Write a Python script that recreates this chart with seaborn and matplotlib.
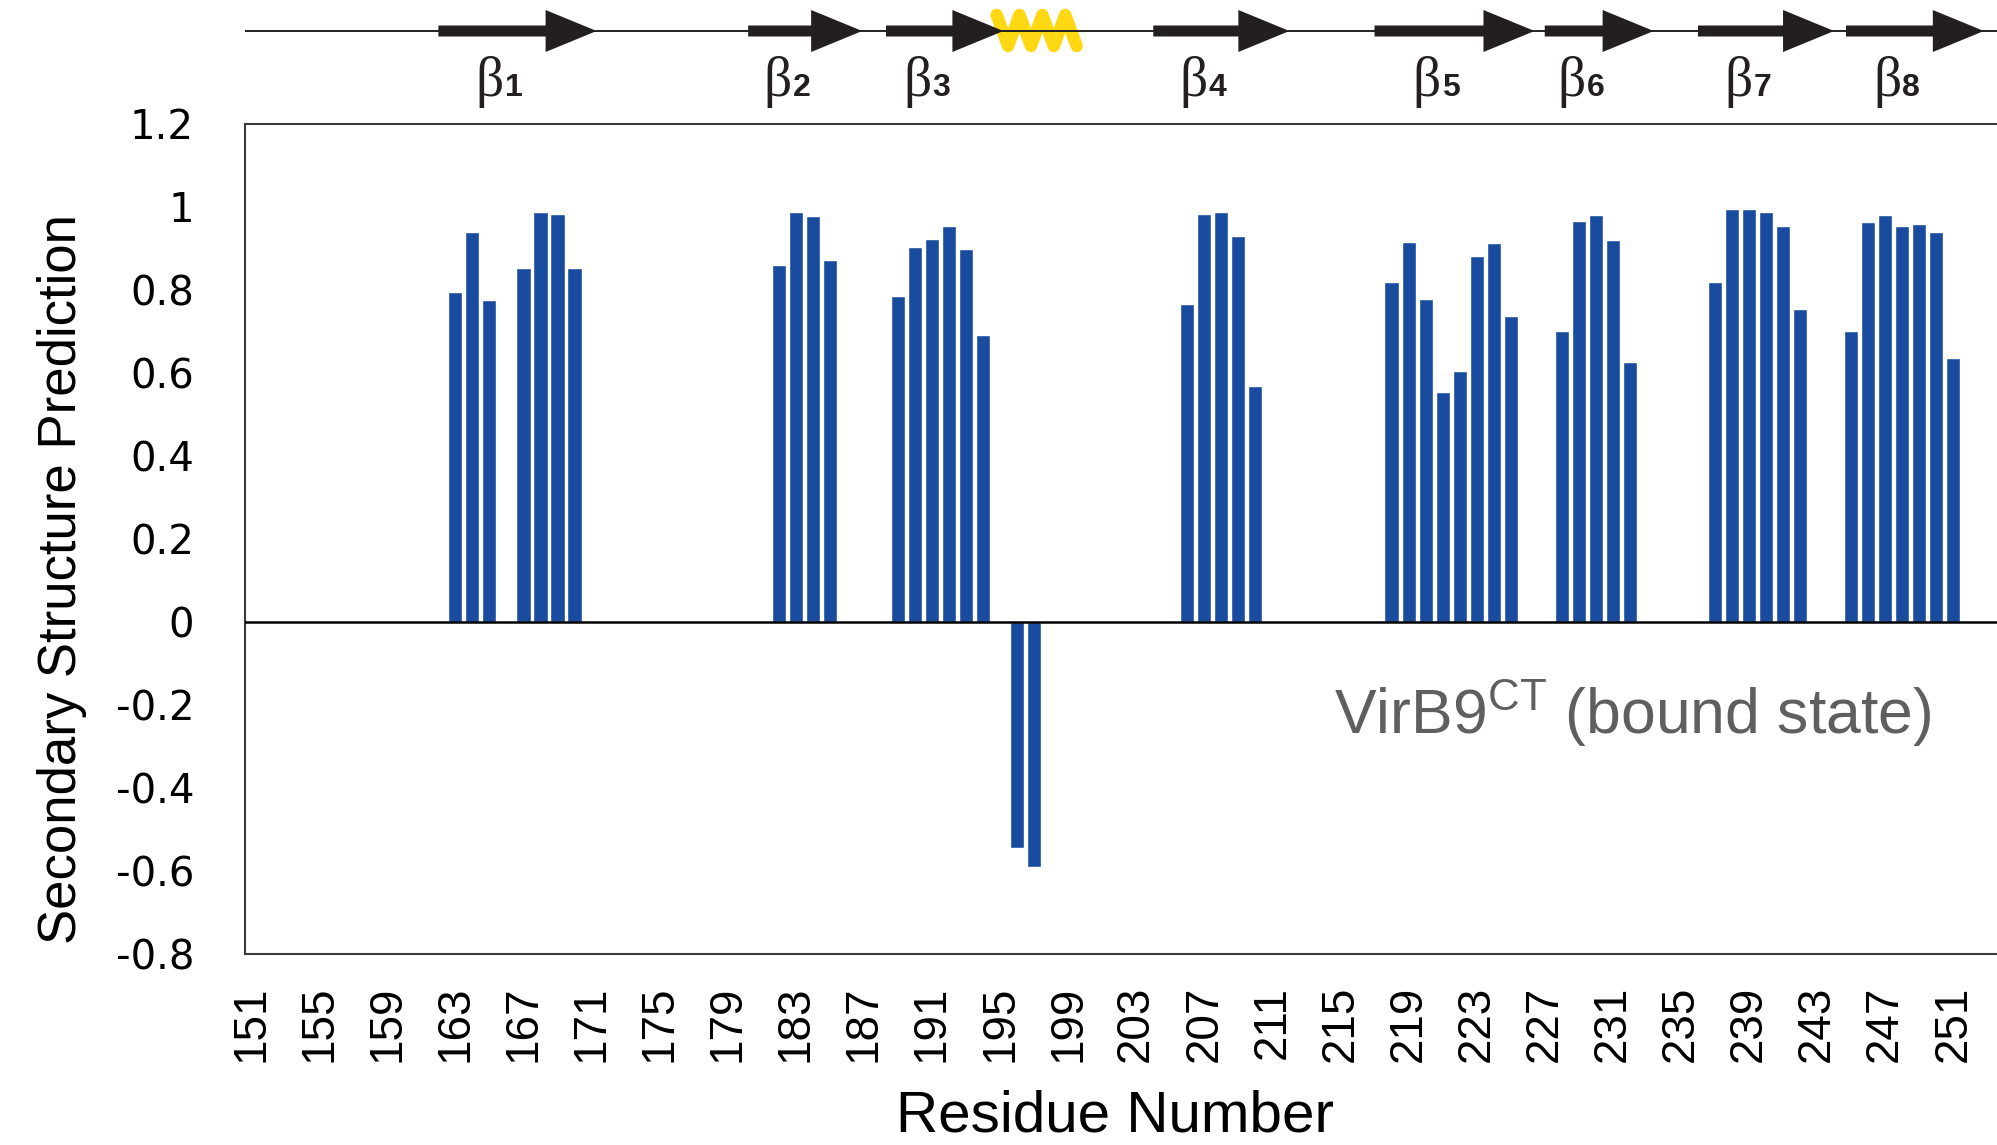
import numpy as np
import pandas as pd
import matplotlib
matplotlib.use('Agg')
import matplotlib.pyplot as plt
import seaborn as sns
from matplotlib.patches import Polygon

# secondary structure prediction per residue (residues with no prediction are left out)
residues = [163, 164, 165, 167, 168, 169, 170,
            182, 183, 184, 185,
            189, 190, 191, 192, 193, 194,
            196, 197,
            206, 207, 208, 209, 210,
            218, 219, 220, 221, 222, 223, 224, 225,
            228, 229, 230, 231, 232,
            237, 238, 239, 240, 241, 242,
            245, 246, 247, 248, 249, 250, 251]
ss_values = [0.793, 0.938, 0.775, 0.851, 0.986, 0.981, 0.851,
             0.858, 0.988, 0.978, 0.870,
             0.784, 0.902, 0.922, 0.954, 0.898, 0.691,
             -0.546, -0.591,
             0.766, 0.983, 0.988, 0.930, 0.568,
             0.818, 0.914, 0.777, 0.554, 0.603, 0.880, 0.913, 0.737,
             0.699, 0.964, 0.979, 0.919, 0.626,
             0.818, 0.993, 0.993, 0.988, 0.954, 0.754,
             0.699, 0.963, 0.979, 0.954, 0.958, 0.938, 0.636]

# beta strands / helix of the bound state structure (residue numbers)
strand_names = ['1', '2', '3', '4', '5', '6', '7', '8']
strand_start = [162.0, 180.2, 188.3, 204.0, 217.0, 227.0, 236.0, 244.7]
strand_end = [171.3, 186.9, 195.2, 212.0, 226.4, 233.4, 244.0, 252.8]
helix_start = 194.8
helix_end = 199.5

xtick_values = list(range(151, 252, 4))
ytick_values = [-0.8, -0.6, -0.4, -0.2, 0, 0.2, 0.4, 0.6, 0.8, 1.0, 1.2]
ytick_labels = ['-0.8', '-0.6', '-0.4', '-0.2', '0', '0.2', '0.4', '0.6', '0.8', '1', '1.2']

sns.set_style('white')
plt.rcParams['font.family'] = ['Liberation Sans', 'DejaVu Sans']
plt.rcParams['mathtext.fontset'] = 'custom'
plt.rcParams['mathtext.rm'] = 'Liberation Sans'
for key in ['text.color', 'axes.labelcolor', 'xtick.color', 'ytick.color']:
    plt.rcParams[key] = 'black'

bar_color = '#194c9f'
xmin, xmax = 150.665, 253.57

fig = plt.figure(figsize=(19.97, 11.45), dpi=100)
ax = fig.add_axes([0.1229, 0.1672, 0.8771, 0.7249])

df = pd.DataFrame({'Residue': residues, 'Prediction': ss_values})
sns.barplot(data=df, x='Residue', y='Prediction', native_scale=True, width=0.83,
            color=bar_color, saturation=1, errorbar=None, ax=ax)

ax.set_xlim(xmin, xmax)
ax.set_ylim(-0.8, 1.2)
ax.axhline(0, color='black', lw=1.8, zorder=3)

ax.spines['right'].set_visible(False)
for side in ['left', 'top', 'bottom']:
    ax.spines[side].set_color('#3a3a3a')
    ax.spines[side].set_linewidth(1.5)

ax.set_xticks(xtick_values)
ax.set_xticklabels([str(v) for v in xtick_values], rotation=90, fontsize=33)
ax.set_yticks(ytick_values)
ax.set_yticklabels(ytick_labels, fontsize=29, family=['DejaVu Sans'])
ax.tick_params(axis='x', length=0, pad=23)
ax.tick_params(axis='y', length=0, pad=37)

ax.set_xlabel('Residue Number', fontsize=42, va='baseline')
ax.xaxis.set_label_coords(0.4967, -0.2139)
ax.set_ylabel('Secondary Structure Prediction', fontsize=38, va='center')
ax.yaxis.set_label_coords(-0.1048, 0.4506)

ax.text(0.6214, 0.2645, r'VirB9$^{\mathrm{CT}}$ (bound state)', transform=ax.transAxes,
        fontsize=45, color='#5f5f5f', va='baseline', ha='left')

# topology diagram above the plot, y in pixels from the top of the image
ax_top = fig.add_axes([0.1229, 0.9, 0.8771, 0.1], sharex=ax)
ax_top.set_ylim(114.5, 0)
ax_top.axis('off')
line_y = 31
ax_top.axhline(line_y, color='#222222', lw=1.4, zorder=2)

# helix drawn as a zigzag ribbon
n_turns = 4
hx = np.linspace(helix_start, helix_end, 2 * n_turns)
hy = np.where(np.arange(2 * n_turns) % 2 == 0, 15, 46)
ax_top.plot(hx, hy, color='#ffd814', lw=9, solid_joinstyle='round', zorder=1)

head_len = 3.0
for name, s, e in zip(strand_names, strand_start, strand_end):
    verts = [(s, line_y - 5.5), (e - head_len, line_y - 5.5), (e - head_len, line_y - 21),
             (e, line_y), (e - head_len, line_y + 21), (e - head_len, line_y + 5.5),
             (s, line_y + 5.5)]
    ax_top.add_patch(Polygon(verts, closed=True, color='#231f20', lw=0, zorder=3))
    xc = (s + e) / 2 - 0.8
    ax_top.text(xc, 96, '\u03b2', family=['Liberation Serif'], fontsize=40,
                ha='right', va='baseline', color='#231f20')
    ax_top.text(xc + 0.05, 96, name, fontsize=23, fontweight='bold', ha='left',
                va='baseline', color='#231f20')

fig.savefig('out.png', dpi=100)
plt.close(fig)
